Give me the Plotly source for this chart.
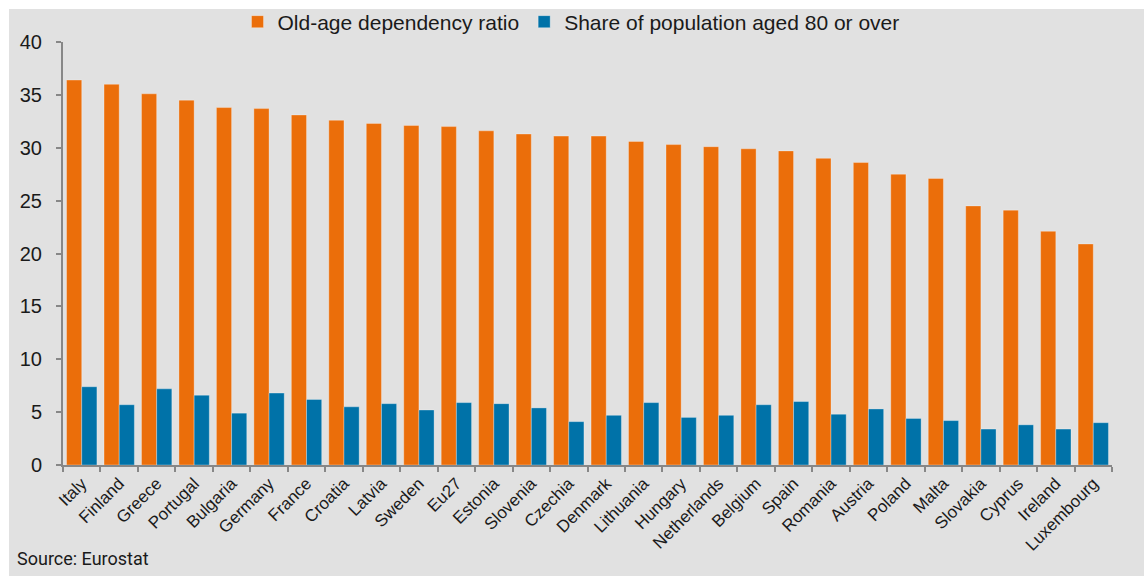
import plotly.graph_objects as go

# Countries ordered by old-age dependency ratio
countries = ["Italy", "Finland", "Greece", "Portugal", "Bulgaria", "Germany", "France",
             "Croatia", "Latvia", "Sweden", "Eu27", "Estonia", "Slovenia", "Czechia",
             "Denmark", "Lithuania", "Hungary", "Netherlands", "Belgium", "Spain",
             "Romania", "Austria", "Poland", "Malta", "Slovakia", "Cyprus", "Ireland",
             "Luxembourg"]

old_age_dependency = [36.4, 36.0, 35.1, 34.5, 33.8, 33.7, 33.1, 32.6, 32.3, 32.1, 32.0,
                      31.6, 31.3, 31.1, 31.1, 30.6, 30.3, 30.1, 29.9, 29.7, 29.0, 28.6,
                      27.5, 27.1, 24.5, 24.1, 22.1, 20.9]

share_aged_80_plus = [7.4, 5.7, 7.2, 6.6, 4.9, 6.8, 6.2, 5.5, 5.8, 5.2, 5.9, 5.8, 5.4,
                      4.1, 4.7, 5.9, 4.5, 4.7, 5.7, 6.0, 4.8, 5.3, 4.4, 4.2, 3.4, 3.8,
                      3.4, 4.0]

y_ticks = [0, 5, 10, 15, 20, 25, 30, 35, 40]

ORANGE = "#eb6e0a"
BLUE = "#0072a8"
BG = "#e1e1e1"
AXIS = "#878787"
FONT = "Liberation Sans, Arial, sans-serif"

W, H = 1144, 576
ML, MR, MT, MB = 63, 32, 42, 111

fig = go.Figure()
fig.add_trace(go.Bar(
    x=countries, y=old_age_dependency, name="Old-age dependency ratio",
    marker=dict(color=ORANGE, line=dict(color="rgba(255,255,255,0.3)", width=1)),
))
fig.add_trace(go.Bar(
    x=countries, y=share_aged_80_plus, name="Share of population aged 80 or over",
    marker=dict(color=BLUE, line=dict(color="rgba(255,255,255,0.3)", width=1)),
))

pw = W - ML - MR
ph = H - MT - MB

def px_x(p):
    return (p - ML) / pw

def px_y(p):
    return (H - MB - p) / ph

fig.update_layout(
    width=W, height=H,
    margin=dict(l=ML, r=MR, t=MT, b=MB, pad=0, autoexpand=False),
    paper_bgcolor=BG, plot_bgcolor=BG,
    barmode="group", bargap=0.19, bargroupgap=0,
    font=dict(family=FONT, color="#1a1a1a"),
    showlegend=True,
    legend=dict(
        orientation="h", xanchor="center", yanchor="middle",
        xref="container", yref="container",
        x=571 / W, y=1 - 22 / H,
        font=dict(size=21, family=FONT, color="#1a1a1a"),
        bgcolor="rgba(0,0,0,0)", itemwidth=30, traceorder="normal",
        tracegroupgap=0,
    ),
    xaxis=dict(
        type="category", tickangle=-45, tickson="boundaries",
        ticks="outside", ticklen=5, tickwidth=2, tickcolor=AXIS,
        showline=True, linecolor=AXIS, linewidth=2,
        showgrid=False, zeroline=False, automargin=False,
        tickfont=dict(size=17, family=FONT, color="#1a1a1a"),
    ),
    yaxis=dict(
        range=[0, 40], tickvals=y_ticks,
        ticks="outside", ticklen=5, tickwidth=2, tickcolor=AXIS,
        showline=True, linecolor=AXIS, linewidth=2,
        showgrid=False, zeroline=False, automargin=False,
        tickfont=dict(size=20, family=FONT, color="#1a1a1a"),
        ticklabelstandoff=10,
    ),
    shapes=[
        # white frame strips along the top and left edges
        dict(type="rect", xref="paper", yref="paper", layer="above",
             x0=px_x(0), x1=px_x(W), y0=px_y(9), y1=px_y(0),
             fillcolor="white", line=dict(width=0)),
        dict(type="rect", xref="paper", yref="paper", layer="above",
             x0=px_x(0), x1=px_x(9), y0=px_y(H), y1=px_y(0),
             fillcolor="white", line=dict(width=0)),
    ],
    annotations=[
        dict(text="Source: Eurostat", xref="paper", yref="paper",
             x=px_x(15), y=px_y(558), xanchor="left", yanchor="middle",
             showarrow=False,
             font=dict(size=18, family="Roboto, Liberation Sans, sans-serif",
                       color="#1a1a1a")),
    ],
)

fig.write_html("out.html")
